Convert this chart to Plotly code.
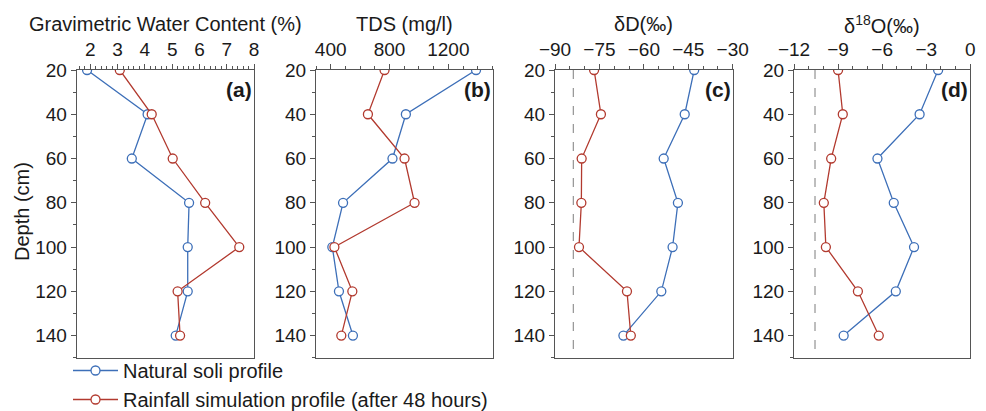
import plotly.graph_objects as go

depth = [20, 40, 60, 80, 100, 120, 140]

gwc_natural = [1.88, 4.10, 3.52, 5.62, 5.57, 5.57, 5.13]
gwc_rain = [3.08, 4.25, 5.02, 6.21, 7.46, 5.20, 5.29]

tds_natural = [1388, 911, 820, 484, 411, 456, 551]
tds_rain = [766, 653, 902, 970, 425, 547, 472]

dD_natural = [-43.0, -46.2, -53.3, -48.5, -50.3, -54.1, -66.9]
dD_rain = [-76.8, -74.5, -81.0, -81.1, -81.9, -65.7, -64.4]

d18O_natural = [-2.19, -3.45, -6.32, -5.21, -3.83, -5.07, -8.62]
d18O_rain = [-9.0, -8.68, -9.47, -9.97, -9.83, -7.65, -6.23]

dD_ref = -83.8
d18O_ref = -10.57

series_names = ["Natural soli profile", "Rainfall simulation profile (after 48 hours)"]
titles = ["Gravimetric Water Content (%)", "TDS (mg/l)", "δD(‰)", "δ<sup>18</sup>O(‰)"]
panel_labels = ["(a)", "(b)", "(c)", "(d)"]
x_ranges = [[1.5, 8], [300, 1500], [-90, -30], [-12, 0]]
x_dticks = [1, 400, 15, 3]
x_tick0 = [2, 400, -90, -12]

BLUE = "#3d6fb8"
RED = "#b23a2f"
FONT = "Liberation Sans, Arial, sans-serif"
W, H = 986, 411

domains = [(76.7, 254.0), (316.0, 492.5), (555.0, 732.7), (794.0, 970.3)]
y_top, y_bot = 70.0, 357.7

fig = go.Figure()

data = [
    (gwc_natural, gwc_rain),
    (tds_natural, tds_rain),
    (dD_natural, dD_rain),
    (d18O_natural, d18O_rain),
]

for i, (nat, rain) in enumerate(data):
    xa = "x" if i == 0 else f"x{i+1}"
    ya = "y" if i == 0 else f"y{i+1}"
    for vals, color, name in ((nat, BLUE, series_names[0]), (rain, RED, series_names[1])):
        fig.add_trace(go.Scatter(
            x=vals, y=depth, xaxis=xa, yaxis=ya, mode="lines+markers",
            name=name, showlegend=(i == 0),
            line=dict(color=color, width=1.3),
            marker=dict(symbol="circle", size=9, color="white",
                        line=dict(color=color, width=1.3)),
        ))

# reference dashed lines in panels c and d
for i, ref in ((2, dD_ref), (3, d18O_ref)):
    xa = f"x{i+1}"
    ya = f"y{i+1}"
    fig.add_trace(go.Scatter(
        x=[ref, ref], y=[20, 150], xaxis=xa, yaxis=ya, mode="lines",
        showlegend=False, hoverinfo="skip",
        line=dict(color="#9a9a9a", width=1.3, dash="dash"),
    ))

layout = dict(
    width=W, height=H,
    margin=dict(l=0, r=0, t=0, b=0, pad=0, autoexpand=False),
    paper_bgcolor="white", plot_bgcolor="white",
    font=dict(family=FONT, size=20, color="#1a1a1a"),
    showlegend=True,
    legend=dict(x=68 / W, y=1 - 351 / H, xanchor="left", yanchor="top",
                bgcolor="rgba(0,0,0,0)", font=dict(size=20, family=FONT),
                tracegroupgap=0, itemwidth=45),
)

annotations = []
for i in range(4):
    sfx = "" if i == 0 else str(i + 1)
    d0, d1 = domains[i]
    layout[f"xaxis{sfx}"] = dict(
        domain=[d0 / W, d1 / W], anchor=f"y{sfx}", side="top",
        range=x_ranges[i], tickmode="linear", tick0=x_tick0[i], dtick=x_dticks[i],
        ticks="outside", ticklen=5, tickwidth=1, tickcolor="#555",
        showline=True, linecolor="#555", linewidth=1, mirror=True,
        showgrid=False, zeroline=False,
        minor=dict(ticks="outside", ticklen=3, tickcolor="#555", showgrid=False),
        tickfont=dict(size=19, family=FONT, color="#1a1a1a"),
    )
    layout[f"yaxis{sfx}"] = dict(
        domain=[1 - y_bot / H, 1 - y_top / H], anchor=f"x{sfx}",
        range=[150, 20], tickmode="array", tickvals=depth,
        ticks="outside", ticklen=5, tickwidth=1, tickcolor="#555",
        showline=True, linecolor="#555", linewidth=1, mirror=True,
        showgrid=False, zeroline=False,
        minor=dict(ticks="outside", ticklen=3, tickcolor="#555",
                   tickvals=[30, 50, 70, 90, 110, 130, 150], showgrid=False),
        tickfont=dict(size=19, family=FONT, color="#1a1a1a"),
    )
    annotations.append(dict(
        text=titles[i], xref=f"x{sfx} domain", yref="paper",
        x=0.5, y=1 - 24 / H, xanchor="center", yanchor="middle",
        showarrow=False, font=dict(size=20, family=FONT, color="#1a1a1a"),
    ))
    annotations.append(dict(
        text=f"<b>{panel_labels[i]}</b>", xref=f"x{sfx} domain", yref="paper",
        x=1.0, y=1 - 89 / H, xanchor="right", yanchor="middle",
        showarrow=False, font=dict(size=21, family=FONT, color="#1a1a1a"),
    ))

annotations.append(dict(
    text="Depth (cm)", xref="paper", yref="paper",
    x=22 / W, y=1 - 212 / H, xanchor="center", yanchor="middle",
    textangle=-90, showarrow=False,
    font=dict(size=20, family=FONT, color="#1a1a1a"),
))

layout["annotations"] = annotations
fig.update_layout(**layout)

fig.write_html(
    "out.html",
    config={"displayModeBar": False},
    post_script="document.body.style.margin='0';document.body.style.overflow='hidden';",
)
